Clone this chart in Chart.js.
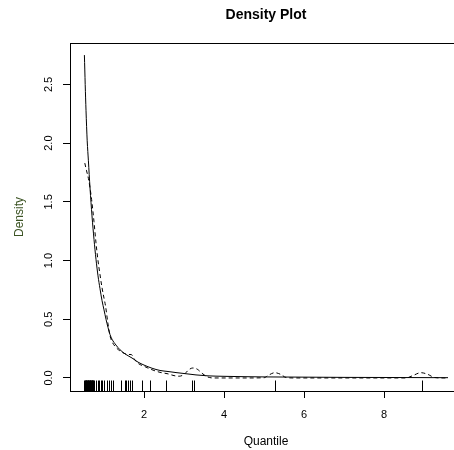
<!DOCTYPE html>
<html>
<head>
<meta charset="utf-8">
<script src="https://cdn.jsdelivr.net/npm/chart.js@4/dist/chart.umd.min.js"></script>
<style>
  html, body { margin: 0; padding: 0; background: #fff; overflow: hidden; }
  #wrap { width: 470px; height: 450px; }
</style>
</head>
<body>
<div id="wrap"><canvas id="densityChart"></canvas></div>
<script>
// fitted (solid) density
const fitX = [0.51, 0.53, 0.55, 0.58, 0.61, 0.65, 0.70, 0.75, 0.80, 0.85, 0.90, 0.95, 1.00, 1.05, 1.10, 1.15, 1.20, 1.30, 1.40, 1.55, 1.70, 1.85, 2.00, 2.20, 2.40, 2.60, 2.80, 3.00, 3.30, 3.60, 4.00, 4.50, 5.00, 6.00, 7.00, 8.00, 9.00, 9.60];
const fitY = [2.75, 2.50, 2.28, 2.02, 1.85, 1.62, 1.38, 1.18, 1.01, 0.87, 0.76, 0.66, 0.58, 0.50, 0.43, 0.37, 0.33, 0.28, 0.24, 0.20, 0.17, 0.135, 0.11, 0.083, 0.064, 0.055, 0.046, 0.038, 0.026, 0.018, 0.014, 0.011, 0.009, 0.007, 0.005, 0.004, 0.003, 0.0025];

// empirical (dashed) density
const empX = [0.52, 0.56, 0.61, 0.65, 0.69, 0.75, 0.80, 0.85, 0.90, 0.95, 1.00, 1.04, 1.10, 1.15, 1.20, 1.30, 1.40, 1.50, 1.60, 1.68, 1.76, 1.85, 2.00, 2.20, 2.40, 2.60, 2.75, 2.88, 3.00, 3.12, 3.22, 3.33, 3.45, 3.58, 3.75, 4.50, 5.00, 5.12, 5.27, 5.42, 5.55, 5.75, 8.55, 8.72, 8.92, 9.10, 9.25, 9.45, 9.60];
const empY = [1.83, 1.77, 1.70, 1.62, 1.52, 1.33, 1.15, 1.00, 0.88, 0.77, 0.68, 0.61, 0.46, 0.36, 0.31, 0.26, 0.23, 0.21, 0.20, 0.20, 0.16, 0.125, 0.10, 0.07, 0.048, 0.035, 0.02, 0.015, 0.03, 0.07, 0.085, 0.075, 0.04, 0.01, 0.0, 0.0, 0.002, 0.025, 0.045, 0.03, 0.004, 0.0, 0.0, 0.02, 0.045, 0.03, 0.005, 0.0, 0.0];

// observations shown as rug
const rugValues = [0.51, 0.52, 0.53, 0.54, 0.55, 0.56, 0.57, 0.58, 0.59, 0.60, 0.61, 0.62, 0.63, 0.64, 0.65, 0.66, 0.67, 0.68, 0.69, 0.70, 0.71, 0.72, 0.73,
  0.76, 0.80, 0.84, 0.88, 0.92, 0.96, 1.01, 1.08, 1.12, 1.17, 1.23, 1.43, 1.53, 1.56, 1.60, 1.64, 1.71, 1.94, 2.15, 2.55, 3.20, 3.26, 5.28, 8.96];

const xTickValues = [2, 4, 6, 8];
const yTickValues = [0, 0.5, 1.0, 1.5, 2.0, 2.5];
const yTickLabels = ["0.0", "0.5", "1.0", "1.5", "2.0", "2.5"];

const FONT = "'Liberation Sans', Arial, sans-serif";

const rPlot = {
  id: "rPlot",
  afterDraw(chart) {
    const { ctx, chartArea: a, scales: { x, y } } = chart;
    ctx.save();
    ctx.strokeStyle = "#000";
    ctx.lineWidth = 1;
    ctx.strokeRect(a.left + 0.5, a.top + 0.5, a.right - a.left, a.bottom - a.top);

    ctx.beginPath();
    rugValues.forEach(v => {
      const px = Math.round(x.getPixelForValue(v)) + 0.5;
      ctx.moveTo(px, a.bottom);
      ctx.lineTo(px, a.bottom - 10.5);
    });
    ctx.stroke();

    ctx.fillStyle = "#000";
    ctx.textAlign = "center";
    ctx.textBaseline = "middle";
    ctx.font = "11px " + FONT;
    yTickValues.forEach((v, i) => {
      ctx.save();
      ctx.translate(49, y.getPixelForValue(v));
      ctx.rotate(-Math.PI / 2);
      ctx.fillText(yTickLabels[i], 0, 0);
      ctx.restore();
    });

    const cx = (a.left + a.right) / 2;
    ctx.font = "bold 14px " + FONT;
    ctx.fillText("Density Plot", cx, 15);
    ctx.font = "12px " + FONT;
    ctx.fillText("Quantile", cx, 442);

    ctx.save();
    ctx.translate(20, (a.top + a.bottom) / 2);
    ctx.rotate(-Math.PI / 2);
    ctx.fillStyle = "#3b5323";
    ctx.fillText("Density", 0, 0);
    ctx.restore();
    ctx.restore();
  }
};

new Chart(document.getElementById("densityChart"), {
  type: "line",
  data: {
    datasets: [
      {
        label: "fitted",
        data: fitX.map((v, i) => ({ x: v, y: fitY[i] })),
        borderColor: "#000",
        borderWidth: 1,
        pointRadius: 0,
        cubicInterpolationMode: "monotone"
      },
      {
        label: "empirical",
        data: empX.map((v, i) => ({ x: v, y: empY[i] })),
        borderColor: "#000",
        borderWidth: 1,
        borderDash: [4, 3],
        pointRadius: 0,
        cubicInterpolationMode: "monotone"
      }
    ]
  },
  options: {
    responsive: true,
    maintainAspectRatio: false,
    animation: false,
    layout: { padding: { top: 43, right: 8, left: 0, bottom: 0 } },
    plugins: { legend: { display: false }, tooltip: { enabled: false } },
    scales: {
      x: {
        type: "linear",
        min: 0.15,
        max: 9.95,
        afterBuildTicks: s => { s.ticks = xTickValues.map(v => ({ value: v })); },
        afterFit: s => { s.height = 59; },
        border: { display: false },
        grid: { drawOnChartArea: false, drawTicks: true, tickLength: 7, color: "#000" },
        ticks: { color: "#000", font: { size: 11, family: FONT }, padding: 10, maxRotation: 0 }
      },
      y: {
        type: "linear",
        min: -0.111,
        max: 2.853,
        afterBuildTicks: s => { s.ticks = yTickValues.map(v => ({ value: v })); },
        afterFit: s => { s.width = 70; },
        border: { display: false },
        grid: { drawOnChartArea: false, drawTicks: true, tickLength: 7, color: "#000" },
        ticks: { display: false }
      }
    }
  },
  plugins: [rPlot]
});
</script>
</body>
</html>
